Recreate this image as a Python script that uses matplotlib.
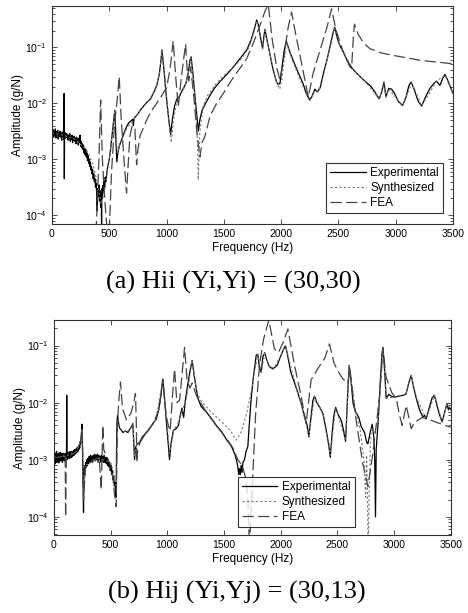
import matplotlib
matplotlib.use('Agg')
import matplotlib.pyplot as plt
from matplotlib.ticker import LogLocator, NullFormatter

plt.rcParams['font.family'] = ['Liberation Sans', 'DejaVu Sans']

#-----(a) Hii data-----------------------------------------------------------
top_exp_f = [0, 5, 10, 15, 20, 25, 30, 35, 40, 45, 50, 55, 60, 65, 70, 75, 80, 85, 90, 95,
             100, 104, 106, 108, 110, 115, 120, 125, 130, 135, 140, 145, 150, 155, 160, 165,
             170, 175, 180, 185, 190, 195, 200, 205, 210, 215, 220, 225, 230, 235, 240, 245,
             250, 255, 260, 265, 270, 275, 280, 285, 290, 295, 300, 305, 310, 315, 320, 325,
             330, 335, 340, 345, 350, 355, 360, 365, 370, 375, 380, 385, 390, 395, 400, 405,
             410, 415, 420, 425, 430, 433, 436, 440, 445, 450, 455, 460, 465, 470, 480, 490,
             500, 510, 520, 530, 540, 548, 556, 566, 575, 590, 610, 630, 650, 670, 690, 705,
             710, 718, 730, 750, 770, 800, 830, 860, 890, 915, 935, 950, 960, 975, 1000, 1020,
             1036, 1050, 1070, 1090, 1110, 1130, 1150, 1170, 1190, 1205, 1214, 1230, 1250, 1265,
             1278, 1290, 1310, 1340, 1380, 1420, 1470, 1520, 1580, 1640, 1700, 1740, 1770, 1787,
             1800, 1820, 1838, 1848, 1859, 1875, 1900, 1930, 1960, 1975, 1990, 2005, 2025, 2045,
             2070, 2110, 2150, 2190, 2220, 2250, 2270, 2295, 2315, 2340, 2370, 2400, 2430, 2455,
             2468, 2485, 2510, 2540, 2570, 2600, 2640, 2690, 2740, 2775, 2810, 2835, 2856, 2877,
             2897, 2915, 2938, 2964, 2990, 3020, 3060, 3090, 3115, 3135, 3160, 3195, 3226, 3260,
             3298, 3335, 3357, 3386, 3410, 3429, 3450, 3475, 3500]
top_exp_a = [5.2e-3, 2.9e-3, 3.4e-3, 2.5e-3, 3.2e-3, 2.7e-3, 3.5e-3, 2.4e-3, 3.1e-3, 2.8e-3,
             3.3e-3, 2.3e-3, 3.0e-3, 2.6e-3, 3.2e-3, 2.5e-3, 2.9e-3, 2.2e-3, 3.1e-3, 2.6e-3,
             2.8e-3, 2.3e-3, 1.5e-2, 4.5e-4, 2.7e-3, 3.0e-3, 2.4e-3, 2.9e-3, 2.5e-3, 2.8e-3,
             2.2e-3, 2.7e-3, 2.4e-3, 2.9e-3, 2.1e-3, 2.6e-3, 2.3e-3, 2.7e-3, 2.0e-3, 2.5e-3,
             2.2e-3, 2.6e-3, 2.1e-3, 2.4e-3, 1.9e-3, 2.5e-3, 2.1e-3, 2.3e-3, 1.8e-3, 2.4e-3,
             2.0e-3, 2.7e-3, 1.7e-3, 2.1e-3, 1.6e-3, 1.9e-3, 1.5e-3, 1.8e-3, 1.3e-3, 1.6e-3,
             1.2e-3, 1.5e-3, 1.1e-3, 1.3e-3, 9.5e-4, 1.2e-3, 8.5e-4, 1.0e-3, 7.5e-4, 9.0e-4,
             6.5e-4, 7.5e-4, 5.5e-4, 6.5e-4, 4.5e-4, 5.5e-4, 4.0e-4, 4.5e-4, 3.2e-4, 3.8e-4,
             2.6e-4, 1.2e-4, 3.0e-4, 2.2e-4, 3.5e-4, 1.8e-4, 2.5e-4, 1.4e-4, 2.8e-4, 7.0e-5,
             3.0e-4, 2.0e-4, 3.4e-4, 2.6e-4, 4.0e-4, 3.2e-4, 4.8e-4, 4.0e-4, 6.0e-4, 8.0e-4,
             1.0e-3, 1.4e-3, 2.2e-3, 3.5e-3, 5.5e-3, 7.5e-3, 3.0e-3, 9.0e-4, 1.3e-3, 1.8e-3,
             2.3e-3, 3.0e-3, 3.8e-3, 4.5e-3, 4.9e-3, 5.2e-3, 4.0e-3, 5.5e-3, 5.8e-3, 6.5e-3,
             7.5e-3, 9.0e-3, 1.05e-2, 1.2e-2, 1.6e-2, 2.1e-2, 3.2e-2, 5.5e-2, 9.0e-2, 4.5e-2,
             1.2e-2, 5.0e-3, 2.8e-3, 5.0e-3, 9.0e-3, 1.2e-2, 1.3e-2, 1.6e-2, 1.9e-2, 2.3e-2,
             3.6e-2, 6.0e-2, 6.8e-2, 3.5e-2, 1.2e-2, 6.0e-3, 3.2e-3, 5.0e-3, 7.5e-3, 1.0e-2,
             1.4e-2, 1.9e-2, 2.5e-2, 3.2e-2, 4.4e-2, 6.3e-2, 9.0e-2, 1.4e-1, 2.3e-1, 3.1e-1,
             2.6e-1, 1.5e-1, 9.5e-2, 1.5e-1, 2.1e-1, 1.4e-1, 8.0e-2, 4.0e-2, 2.4e-2, 2.2e-2,
             2.3e-2, 4.0e-2, 8.5e-2, 1.3e-1, 9.0e-2, 5.5e-2, 3.5e-2, 2.3e-2, 1.5e-2, 1.15e-2,
             1.35e-2, 1.8e-2, 1.6e-2, 1.9e-2, 3.5e-2, 6.0e-2, 1.1e-1, 1.9e-1, 2.3e-1, 1.6e-1,
             1.1e-1, 8.5e-2, 6.2e-2, 4.8e-2, 3.8e-2, 3.0e-2, 2.4e-2, 2.1e-2, 1.7e-2, 1.4e-2,
             1.2e-2, 1.6e-2, 2.4e-2, 1.3e-2, 1.85e-2, 1.8e-2, 1.5e-2, 1.1e-2, 9.2e-3, 1.3e-2,
             2.1e-2, 2.4e-2, 1.8e-2, 1.1e-2, 9.0e-3, 1.3e-2, 1.85e-2, 2.3e-2, 2.5e-2, 2.1e-2,
             2.8e-2, 3.3e-2, 2.7e-2, 2.0e-2, 1.5e-2]

top_syn_f = [0, 100, 200, 300, 360, 400, 430, 460, 500, 530, 550, 570, 600, 650, 700, 750,
             800, 850, 900, 940, 960, 980, 1010, 1030, 1042, 1060, 1090, 1120, 1160, 1190,
             1212, 1235, 1255, 1270, 1277, 1290, 1320, 1360, 1420, 1480, 1540, 1600, 1660,
             1720, 1760, 1788, 1810, 1838, 1859, 1890, 1930, 1965, 1988, 2010, 2045, 2090,
             2150, 2200, 2245, 2270, 2295, 2320, 2350, 2400, 2440, 2465, 2500, 2560, 2640,
             2740, 2856, 2897, 2915, 2940, 3060, 3140, 3226, 3357, 3429, 3500]
top_syn_a = [3.0e-3, 2.7e-3, 2.3e-3, 1.5e-3, 8e-4, 3.5e-4, 1.6e-4, 2.8e-4, 1.0e-3, 3.5e-3,
             7.5e-3, 1.3e-3, 2.0e-3, 3.5e-3, 4.8e-3, 6.5e-3, 8.8e-3, 1.15e-2, 1.7e-2, 3.5e-2,
             8.5e-2, 4.0e-2, 8e-3, 3e-3, 2.0e-3, 5e-3, 1.1e-2, 1.4e-2, 2.0e-2, 3.5e-2, 6.5e-2,
             2.8e-2, 8e-3, 2e-3, 4.3e-4, 3e-3, 9e-3, 1.4e-2, 2.1e-2, 2.9e-2, 3.7e-2, 4.8e-2,
             6.5e-2, 1.0e-1, 1.8e-1, 3.0e-1, 1.9e-1, 9.5e-2, 2.0e-1, 1.0e-1, 4.0e-2, 2.2e-2,
             1.8e-2, 3.0e-2, 1.25e-1, 6.5e-2, 3.2e-2, 1.8e-2, 1.1e-2, 1.3e-2, 1.7e-2, 1.6e-2,
             2.2e-2, 5.8e-2, 1.5e-1, 2.2e-1, 1.2e-1, 7.0e-2, 3.8e-2, 2.4e-2, 1.2e-2, 2.3e-2,
             1.3e-2, 1.8e-2, 9.2e-3, 2.3e-2, 9.0e-3, 2.5e-2, 3.2e-2, 1.5e-2]

top_fea_f = [385, 410, 425, 440, 460, 480, 500, 520, 545, 570, 587, 605, 630, 651, 665, 680,
             700, 724, 732, 739, 750, 768, 800, 840, 880, 913, 960, 1000, 1030, 1058, 1080,
             1102, 1130, 1166, 1180, 1195, 1210, 1240, 1265, 1291, 1310, 1335, 1380, 1437,
             1495, 1582, 1650, 1699, 1750, 1786, 1830, 1860, 1888, 1920, 1960, 1990, 2020,
             2060, 2091, 2130, 2180, 2237, 2280, 2340, 2400, 2440, 2480, 2540, 2600, 2615,
             2630, 2640, 2673, 2720, 2775, 2870, 2978, 3100, 3211, 3350, 3500]
top_fea_a = [5e-5, 1e-3, 1.15e-2, 1e-3, 2e-4, 6e-5, 5e-5, 6e-4, 4e-3, 1.2e-2, 3.0e-2, 5e-3,
             9e-4, 2.5e-4, 8e-4, 2.6e-3, 4.0e-3, 3.5e-3, 1.5e-3, 8e-4, 1.5e-3, 2.6e-3, 3.8e-3,
             5.8e-3, 8e-3, 1.0e-2, 1.4e-2, 1.9e-2, 4e-2, 1.3e-1, 3e-2, 8.7e-3, 3e-2, 1.15e-1,
             4e-2, 2.5e-2, 4.5e-2, 1.2e-2, 3e-3, 1.1e-3, 2e-3, 2.6e-3, 6e-3, 1.0e-2, 1.5e-2,
             2.9e-2, 4.5e-2, 6.3e-2, 1.1e-1, 1.7e-1, 3.0e-1, 4.5e-1, 5.8e-1, 1.5e-1, 4.5e-2,
             2.6e-2, 6e-2, 2.2e-1, 4.3e-1, 1.6e-1, 5e-2, 1.3e-2, 3.5e-2, 9e-2, 2.3e-1, 4.9e-1,
             2.0e-1, 8.5e-2, 4.5e-2, 4.2e-2, 1.5e-1, 2.6e-1, 1.7e-1, 1.2e-1, 9.5e-2, 8e-2,
             7.2e-2, 6.5e-2, 5.9e-2, 5.5e-2, 5.1e-2]

#-----(b) Hij data-----------------------------------------------------------
bot_exp_f = [0, 4, 8, 12, 16, 20, 24, 28, 32, 36, 40, 44, 48, 52, 56, 60, 64, 68, 72, 76, 80,
             84, 88, 92, 96, 100, 104, 108, 112, 114, 116, 120, 124, 128, 132, 136, 140, 144,
             148, 152, 156, 160, 164, 168, 172, 176, 180, 184, 188, 192, 196, 200, 204, 208,
             212, 216, 220, 224, 228, 232, 236, 240, 244, 248, 251, 255, 259, 262, 265, 268,
             272, 276, 280, 284, 288, 292, 296, 300, 306, 312, 318, 324, 330, 336, 342, 348,
             354, 360, 366, 372, 378, 384, 390, 396, 402, 408, 414, 420, 426, 432, 438, 444,
             450, 456, 462, 468, 474, 480, 486, 492, 498, 504, 510, 516, 522, 528, 534, 540,
             546, 550, 553, 557, 562, 570, 580, 594, 610, 630, 653, 670, 685, 697, 705, 712,
             720, 735, 756, 780, 810, 844, 880, 903, 925, 945, 961, 975, 995, 1010, 1020, 1035,
             1055, 1079, 1100, 1115, 1130, 1145, 1160, 1180, 1200, 1220, 1240, 1270, 1300,
             1344, 1390, 1432, 1480, 1520, 1560, 1580, 1600, 1615, 1623, 1630, 1637, 1645,
             1652, 1660, 1668, 1682, 1695, 1711, 1725, 1740, 1760, 1785, 1799, 1814, 1829,
             1843, 1860, 1873, 1900, 1932, 1970, 2000, 2025, 2043, 2060, 2090, 2137, 2180,
             2211, 2235, 2249, 2265, 2285, 2299, 2320, 2350, 2373, 2400, 2425, 2438, 2455,
             2470, 2485, 2510, 2535, 2555, 2573, 2590, 2605, 2620, 2640, 2660, 2690, 2711,
             2740, 2760, 2770, 2790, 2808, 2822, 2830, 2837, 2843, 2860, 2880, 2895, 2903,
             2915, 2931, 2955, 2975, 3000, 3046, 3080, 3105, 3130, 3152, 3175, 3196, 3225,
             3255, 3270, 3284, 3310, 3335, 3357, 3385, 3410, 3425, 3440, 3466, 3480, 3490, 3500]
bot_exp_a = [1.3e-3, 9e-4, 1.2e-3, 8.5e-4, 1.3e-3, 1.0e-3, 1.4e-3, 9e-4, 1.2e-3, 1.0e-3,
             1.3e-3, 8.8e-4, 1.2e-3, 1.0e-3, 1.35e-3, 9.5e-4, 1.2e-3, 1.0e-3, 1.3e-3, 9e-4,
             1.2e-3, 1.05e-3, 1.3e-3, 9.5e-4, 1.2e-3, 1.0e-3, 1.3e-3, 1.1e-3, 1.2e-3, 1.35e-2,
             1.0e-3, 1.3e-3, 1.05e-3, 1.35e-3, 1.1e-3, 1.3e-3, 1.05e-3, 1.4e-3, 1.15e-3, 1.3e-3,
             1.1e-3, 1.4e-3, 1.15e-3, 1.35e-3, 1.2e-3, 1.45e-3, 1.2e-3, 1.5e-3, 1.25e-3, 1.5e-3,
             1.3e-3, 1.6e-3, 1.35e-3, 1.6e-3, 1.4e-3, 1.7e-3, 1.5e-3, 1.8e-3, 1.6e-3, 2.0e-3,
             1.9e-3, 2.4e-3, 3.0e-3, 4.2e-3, 2.5e-3, 8e-4, 3e-4, 1.2e-4, 4e-4, 7e-4, 5.5e-4,
             8e-4, 7e-4, 9e-4, 7.5e-4, 1.0e-3, 8e-4, 1.05e-3, 8.5e-4, 1.15e-3, 9e-4, 1.2e-3,
             9.5e-4, 1.15e-3, 9e-4, 1.2e-3, 1.0e-3, 1.25e-3, 9.5e-4, 1.2e-3, 1.0e-3, 1.25e-3,
             9e-4, 1.2e-3, 1.0e-3, 1.15e-3, 9e-4, 1.2e-3, 9.5e-4, 1.15e-3, 9e-4, 1.2e-3, 9e-4,
             1.1e-3, 8.5e-4, 1.1e-3, 8e-4, 1.0e-3, 7.5e-4, 9e-4, 6.5e-4, 8e-4, 5.5e-4, 6.5e-4,
             4.5e-4, 5e-4, 3.5e-4, 4e-4, 2.5e-4, 2.2e-4, 1.5e-3, 4.5e-3, 6e-3, 4.5e-3, 3.6e-3,
             3.3e-3, 3.0e-3, 3.2e-3, 3.0e-3, 3.4e-3, 3.8e-3, 4.3e-3, 2.0e-3, 1.0e-3, 1.6e-3,
             1.9e-3, 2.0e-3, 2.5e-3, 2.9e-3, 3.5e-3, 4.5e-3, 5.1e-3, 7.5e-3, 1.4e-2, 2.6e-2,
             1.3e-2, 4e-3, 1.8e-3, 1.0e-3, 2.0e-3, 3.3e-3, 3.5e-3, 4.0e-3, 6e-3, 8e-3, 5.5e-3,
             1.1e-2, 2.0e-2, 3.5e-2, 5.5e-2, 2.8e-2, 1.2e-2, 8.5e-3, 6.9e-3, 5.3e-3, 4.0e-3,
             3.1e-3, 2.3e-3, 1.8e-3, 1.5e-3, 1.2e-3, 9e-4, 7.5e-4, 5.5e-4, 7e-4, 5.5e-4, 8e-4,
             6e-4, 9e-4, 1.0e-3, 1.4e-3, 1.7e-3, 4.5e-3, 1.15e-2, 2.8e-2, 6.8e-2, 7.1e-2, 4e-2,
             3.4e-2, 6.3e-2, 7.5e-2, 6e-2, 4.3e-2, 3.9e-2, 4.5e-2, 6.5e-2, 8.5e-2, 1.0e-1,
             7e-2, 3.4e-2, 1.85e-2, 1.0e-2, 5.6e-3, 4.0e-3, 2.5e-3, 5.0e-3, 1.1e-2, 1.3e-2,
             1.0e-2, 8.0e-3, 6.5e-3, 3.5e-3, 1.8e-3, 1.1e-3, 3.0e-3, 6.0e-3, 8.3e-3, 6.0e-3,
             4.9e-3, 3.3e-3, 2.1e-3, 1.2e-2, 4.5e-2, 2.5e-2, 9.5e-3, 7.0e-3, 5.5e-3, 3.8e-3,
             3.0e-3, 2.0e-3, 1.9e-3, 3.0e-3, 4.2e-3, 2.5e-3, 1.0e-3, 1.0e-4, 1.5e-3, 4.5e-3,
             2.5e-2, 7.5e-2, 9.3e-2, 4.5e-2, 1.2e-2, 1.4e-2, 1.3e-2, 1.25e-2, 1.3e-2, 1.35e-2,
             1.4e-2, 2.2e-2, 3.0e-2, 1.8e-2, 1.2e-2, 7.5e-3, 5.6e-3, 6e-3, 5.2e-3, 8e-3, 1.2e-2,
             1.35e-2, 8e-3, 5.5e-3, 4.6e-3, 6e-3, 9.5e-3, 7.5e-3, 8.3e-3, 7.5e-3]

bot_syn_f = [0, 100, 200, 240, 250, 262, 280, 400, 500, 540, 552, 560, 600, 650, 697, 712,
             730, 800, 900, 961, 1000, 1022, 1060, 1100, 1140, 1170, 1220, 1260, 1300, 1400,
             1500, 1560, 1608, 1650, 1696, 1740, 1770, 1799, 1829, 1860, 1900, 1940, 2000,
             2043, 2100, 2180, 2249, 2299, 2373, 2438, 2485, 2573, 2605, 2660, 2700, 2735,
             2750, 2758, 2766, 2772, 2780, 2790, 2800, 2830, 2860, 2903, 2931, 3000, 3105,
             3152, 3200, 3284, 3357, 3425, 3466, 3500]
bot_syn_a = [1.1e-3, 1.15e-3, 1.4e-3, 2.2e-3, 3.5e-3, 2.5e-4, 8e-4, 1.05e-3, 9e-4, 5e-4,
             3e-4, 5e-3, 3.2e-3, 3.1e-3, 4.2e-3, 1.2e-3, 1.8e-3, 2.6e-3, 5.0e-3, 2.5e-2, 4e-3,
             1.3e-3, 3.4e-3, 4.5e-3, 8e-3, 1.2e-2, 5.5e-2, 1.6e-2, 1.05e-2, 6.5e-3, 4.2e-3,
             3.2e-3, 2.2e-3, 3.0e-3, 6.0e-3, 1.5e-2, 3.5e-2, 7e-2, 3.5e-2, 7.3e-2, 4.4e-2,
             4.0e-2, 6.5e-2, 1.0e-1, 3.6e-2, 9.5e-3, 2.6e-3, 1.3e-2, 6.3e-3, 1.2e-3, 8.2e-3,
             2.2e-3, 4.4e-2, 7e-3, 3.5e-3, 1.0e-3, 2.2e-4, 1.2e-3, 3.0e-4, 2.0e-5, 2.0e-4,
             1.5e-3, 3.5e-3, 3.0e-3, 5.0e-3, 9.2e-2, 1.2e-2, 1.25e-2, 1.4e-2, 3.0e-2, 1.2e-2,
             5.2e-3, 1.35e-2, 4.6e-3, 9.5e-3, 7.5e-3]

bot_fea_f = [0, 40, 80, 100, 104, 110, 150, 200, 240, 250, 262, 280, 350, 400, 418, 425, 432,
             440, 470, 500, 520, 535, 550, 560, 575, 588, 605, 640, 680, 705, 720, 727, 732,
             740, 760, 800, 880, 930, 962, 990, 1010, 1026, 1045, 1065, 1085, 1109, 1130,
             1153, 1175, 1200, 1220, 1260, 1344, 1432, 1520, 1580, 1623, 1660, 1690, 1712,
             1725, 1745, 1779, 1814, 1850, 1896, 1946, 1980, 2020, 2064, 2123, 2181, 2225,
             2269, 2330, 2390, 2431, 2470, 2504, 2550, 2593, 2610, 2666, 2725, 2770, 2814,
             2873, 2903, 2930, 2980, 3019, 3049, 3072, 3108, 3152, 3180, 3250, 3328, 3420, 3500]
bot_fea_a = [1.1e-3, 1.1e-3, 1.15e-3, 1.3e-3, 1.0e-4, 1.1e-3, 1.2e-3, 1.4e-3, 2.3e-3, 3.5e-3,
             2e-4, 8e-4, 1.0e-3, 1.1e-3, 3e-4, 1.0e-3, 4.0e-3, 1.5e-3, 1.1e-3, 8e-4, 5e-4,
             2.5e-4, 1.5e-4, 4e-3, 1.2e-2, 2.3e-2, 8e-3, 5e-3, 6.5e-3, 1.0e-2, 1.45e-2, 5e-3,
             9e-4, 1.5e-3, 2.0e-3, 2.7e-3, 4.4e-3, 8e-3, 2.5e-2, 6e-3, 4e-3, 3.2e-3, 1.2e-2,
             3.9e-2, 1.0e-2, 1.1e-2, 3e-2, 9.3e-2, 2.5e-2, 1.8e-2, 2.2e-2, 1.3e-2, 6.9e-3,
             4.0e-3, 2.4e-3, 1.6e-3, 1.0e-3, 8e-4, 5e-4, 2e-4, 3e-5, 2e-4, 6e-3, 4.5e-2, 1.3e-1,
             2.8e-1, 8.7e-2, 7.5e-2, 1.1e-1, 1.95e-1, 4.5e-2, 1.3e-2, 4.3e-3, 2.5e-2, 4e-2,
             6e-2, 1.07e-1, 5e-2, 3.6e-2, 2.6e-2, 2.2e-2, 4.0e-2, 4.9e-3, 8.5e-4, 3.4e-4,
             1.3e-3, 1.3e-2, 8.8e-2, 2.8e-2, 1.5e-2, 1.2e-2, 6e-3, 4.0e-3, 8.9e-3, 3.5e-3,
             4.5e-3, 5.5e-3, 4.9e-3, 4.2e-3, 3.7e-3]

freq_ticks = [0, 500, 1000, 1500, 2000, 2500, 3000, 3500]
legend_labels = ['Experimental', 'Synthesized', 'FEA']
captions = ['(a) Hii (Yi,Yi) = (30,30)', '(b) Hij (Yi,Yj) = (30,13)']


def draw(ax, exp_f, exp_a, syn_f, syn_a, fea_f, fea_a, ylim):
    ax.semilogy(exp_f, exp_a, color='black', lw=0.9, label=legend_labels[0])
    ax.semilogy(syn_f, syn_a, color='#777777', lw=0.8, ls=(0, (2, 2)), label=legend_labels[1])
    ax.semilogy(fea_f, fea_a, color='#444444', lw=0.9, ls=(0, (9, 3.5)), label=legend_labels[2])
    ax.set_xlim(0, 3500)
    ax.set_ylim(*ylim)
    ax.set_xticks(freq_ticks)
    ax.yaxis.set_major_locator(LogLocator(base=10, numticks=10))
    ax.yaxis.set_minor_locator(LogLocator(base=10, subs=range(2, 10), numticks=20))
    ax.yaxis.set_minor_formatter(NullFormatter())
    ax.tick_params(which='both', direction='in', top=True, right=True, labelsize=7.5,
                   width=0.6, color='#333333')
    ax.tick_params(which='major', length=3.5)
    ax.tick_params(which='minor', length=2)
    for s in ax.spines.values():
        s.set_linewidth(0.8)
        s.set_color('#333333')
    ax.set_xlabel('Frequency (Hz)', fontsize=8.5, labelpad=2)
    ax.set_ylabel('Amplitude (g/N)', fontsize=8.5, labelpad=1)


fig = plt.figure(figsize=(4.68, 6.13), dpi=100)

#-----Top panel--------------------------------------------------------------
ax1 = fig.add_axes([0.111, 0.6346, 0.857, 0.3556])
draw(ax1, top_exp_f, top_exp_a, top_syn_f, top_syn_a, top_fea_f, top_fea_a, (7e-5, 0.55))
leg1 = ax1.legend(loc='lower right', bbox_to_anchor=(0.975, 0.05), borderaxespad=0,
                  fontsize=8.5, frameon=True, fancybox=False, edgecolor='black',
                  handlelength=3.0, labelspacing=0.25, borderpad=0.35, handletextpad=0.4)
leg1.get_frame().set_linewidth(0.8)

#-----Bottom panel-----------------------------------------------------------
ax2 = fig.add_axes([0.115, 0.1272, 0.848, 0.3507])
draw(ax2, bot_exp_f, bot_exp_a, bot_syn_f, bot_syn_a, bot_fea_f, bot_fea_a, (4.8e-5, 0.28))
leg2 = ax2.legend(loc='lower left', bbox_to_anchor=(0.463, 0.037), borderaxespad=0,
                  fontsize=8.5, frameon=True, fancybox=False, edgecolor='black',
                  handlelength=3.0, labelspacing=0.25, borderpad=0.35, handletextpad=0.4)
leg2.get_frame().set_linewidth(0.8)

#-----Captions---------------------------------------------------------------
fig.text(0.498, 0.54, captions[0], ha='center', va='center', fontsize=19,
         family=['Liberation Serif', 'DejaVu Serif'])
fig.text(0.505, 0.033, captions[1], ha='center', va='center', fontsize=19,
         family=['Liberation Serif', 'DejaVu Serif'])

fig.savefig('out.png', dpi=100)
